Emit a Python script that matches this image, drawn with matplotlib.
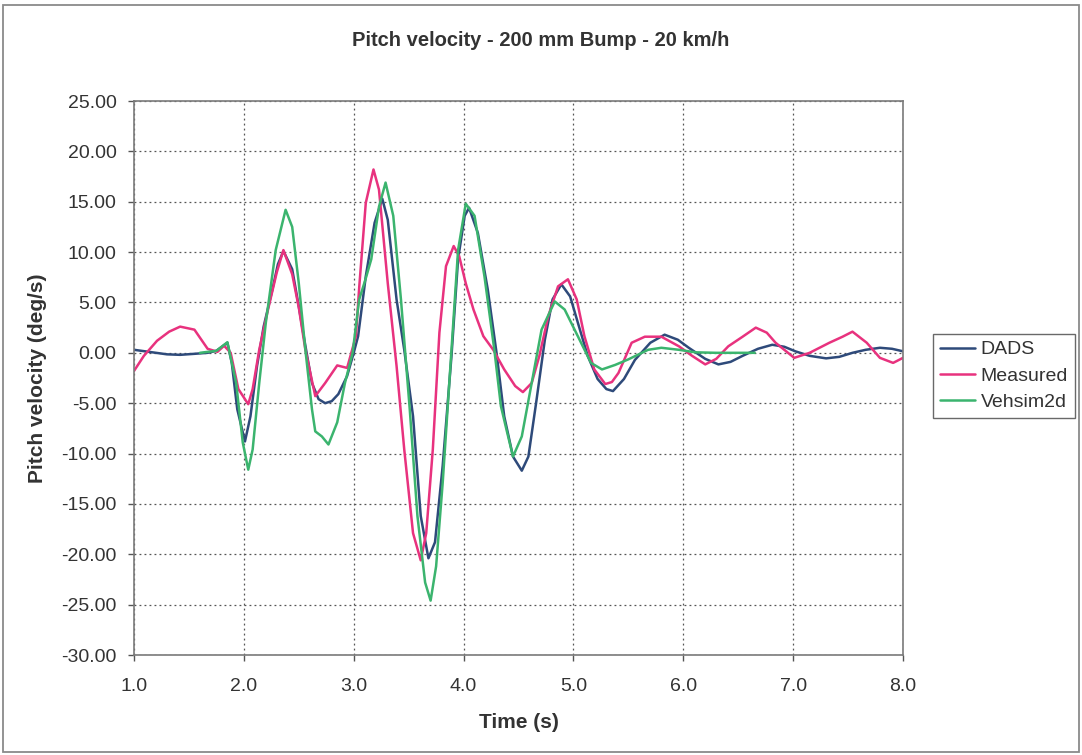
import matplotlib
matplotlib.use("Agg")
import matplotlib.pyplot as plt
from matplotlib.patches import Rectangle

plt.rcParams['font.family'] = ['Liberation Sans', 'DejaVu Sans']

# ---- data ----
dads_t = [1.00, 1.10, 1.20, 1.30, 1.42, 1.55, 1.67, 1.75, 1.80, 1.85, 1.89, 1.94, 2.01, 2.06,
          2.12, 2.18, 2.26, 2.31, 2.36, 2.44, 2.50, 2.56, 2.62, 2.68, 2.74, 2.80, 2.86, 2.94,
          3.00, 3.04, 3.11, 3.19, 3.26, 3.31, 3.39, 3.46, 3.54, 3.61, 3.68, 3.74, 3.81, 3.89,
          3.95, 4.01, 4.05, 4.13, 4.22, 4.30, 4.37, 4.45, 4.53, 4.59, 4.66, 4.74, 4.81, 4.89,
          4.97, 5.04, 5.13, 5.22, 5.30, 5.36, 5.46, 5.56, 5.70, 5.83, 5.95, 6.05, 6.20, 6.32,
          6.43, 6.54, 6.68, 6.81, 6.92, 7.02, 7.15, 7.30, 7.42, 7.54, 7.66, 7.79, 7.90, 8.00]
dads_v = [0.3, 0.15, 0.0, -0.15, -0.2, -0.1, 0.0, 0.2, 0.6, 1.0, -1.0, -5.6, -8.8, -6.3,
          -1.3, 2.6, 6.3, 8.8, 10.1, 8.3, 4.6, 0.7, -3.0, -4.6, -5.0, -4.8, -4.1, -2.3,
          0.0, 1.65, 7.6, 12.9, 15.3, 13.2, 5.3, 0.3, -6.3, -16.2, -20.4, -18.8, -11.2, -0.3,
          9.3, 13.6, 14.4, 11.9, 6.3, 0.0, -6.3, -10.3, -11.7, -10.3, -5.0, 1.3, 5.3, 6.8,
          5.6, 3.0, -0.3, -2.6, -3.6, -3.8, -2.6, -0.7, 1.0, 1.8, 1.3, 0.5, -0.6, -1.15,
          -0.9, -0.3, 0.4, 0.8, 0.6, 0.15, -0.3, -0.55, -0.4, 0.0, 0.3, 0.5, 0.4, 0.15]

meas_t = [1.00, 1.09, 1.21, 1.32, 1.42, 1.55, 1.67, 1.76, 1.82, 1.88, 1.95, 2.04, 2.08, 2.14,
          2.22, 2.30, 2.36, 2.44, 2.50, 2.56, 2.65, 2.74, 2.85, 2.94, 3.02, 3.05, 3.11, 3.18,
          3.23, 3.31, 3.39, 3.46, 3.54, 3.61, 3.66, 3.72, 3.78, 3.84, 3.91, 3.96, 4.02, 4.09,
          4.18, 4.27, 4.37, 4.47, 4.54, 4.62, 4.69, 4.77, 4.86, 4.95, 5.03, 5.10, 5.19, 5.29,
          5.35, 5.41, 5.53, 5.65, 5.80, 5.96, 6.08, 6.20, 6.30, 6.41, 6.54, 6.66, 6.76, 6.84,
          7.01, 7.15, 7.33, 7.45, 7.54, 7.67, 7.79, 7.91, 8.00]
meas_v = [-1.8, -0.3, 1.2, 2.1, 2.6, 2.3, 0.4, 0.1, 0.7, 0.0, -3.6, -5.1, -3.6, 0.3,
          4.3, 8.0, 10.2, 7.8, 4.5, 0.3, -4.3, -3.0, -1.25, -1.5, 1.65, 6.5, 14.9, 18.2,
          16.2, 6.9, -1.3, -9.6, -17.9, -20.6, -17.9, -9.6, 2.0, 8.6, 10.6, 9.6, 6.9, 4.3,
          1.65, 0.3, -1.65, -3.3, -3.9, -3.0, -0.3, 3.6, 6.6, 7.3, 5.3, 1.65, -1.65, -3.1,
          -2.9, -2.0, 1.0, 1.6, 1.6, 0.65, -0.3, -1.15, -0.6, 0.65, 1.6, 2.5, 2.0, 1.0,
          -0.5, 0.0, 1.0, 1.6, 2.1, 1.0, -0.5, -1.0, -0.5]

veh_t = [1.60, 1.75, 1.85, 1.93, 1.99, 2.04, 2.08, 2.14, 2.20, 2.29, 2.38, 2.44, 2.50, 2.56,
         2.62, 2.65, 2.71, 2.77, 2.85, 2.92, 2.99, 3.05, 3.11, 3.16, 3.23, 3.29, 3.36, 3.43,
         3.51, 3.58, 3.65, 3.70, 3.75, 3.81, 3.89, 3.95, 4.02, 4.10, 4.19, 4.28, 4.34, 4.39,
         4.45, 4.53, 4.62, 4.71, 4.83, 4.92, 5.04, 5.16, 5.26, 5.38, 5.50, 5.68, 5.80, 5.96,
         6.11, 6.30, 6.65]
veh_v = [0.0, 0.2, 1.05, -3.0, -8.9, -11.6, -9.6, -3.0, 3.0, 10.2, 14.2, 12.5, 6.9, 0.3,
         -5.6, -7.8, -8.3, -9.1, -6.9, -3.0, 0.0, 5.3, 7.4, 9.3, 14.5, 16.9, 13.6, 5.3,
         -5.6, -16.2, -22.8, -24.6, -21.2, -12.9, 0.3, 10.2, 14.8, 13.6, 7.6, 0.3, -5.3, -7.6,
         -10.3, -8.3, -3.0, 2.3, 5.1, 4.3, 1.65, -1.0, -1.65, -1.2, -0.65, 0.3, 0.5, 0.3,
         0.05, 0.0, 0.0]

series_names = ["DADS", "Measured", "Vehsim2d"]
series_colors = ["#2E4A7A", "#E8327E", "#3BB46E"]

x_ticks = [1.0, 2.0, 3.0, 4.0, 5.0, 6.0, 7.0, 8.0]
y_ticks = [25, 20, 15, 10, 5, 0, -5, -10, -15, -20, -25, -30]

# ---- figure ----
W, H = 1082, 755
fig = plt.figure(figsize=(W / 100, H / 100), dpi=100)
fig.patch.set_facecolor("white")
fig.patches.append(Rectangle((3 / W, 3 / H), 1 - 6 / W, 1 - 8 / H, transform=fig.transFigure,
                             fill=False, edgecolor="#8a8a8a", linewidth=1.3))

ax = fig.add_axes([134 / W, 1 - 655 / H, (903 - 134) / W, (655 - 101) / H])

for (t, v), name, col in zip([(dads_t, dads_v), (meas_t, meas_v), (veh_t, veh_v)],
                             series_names, series_colors):
    ax.plot(t, v, color=col, linewidth=1.8, label=name, solid_joinstyle="round",
            solid_capstyle="round")

ax.set_xlim(1.0, 8.0)
ax.set_ylim(-30, 25)
ax.set_xticks(x_ticks)
ax.set_xticklabels([f"{x:.1f}" for x in x_ticks])
ax.set_yticks(y_ticks)
ax.set_yticklabels([f"{y:.2f}" for y in y_ticks])
ax.tick_params(direction="out", length=4.5, width=1, color="#555555", labelsize=14,
               labelcolor="#333333")
ax.tick_params(axis="y", pad=8)
ax.tick_params(axis="x", pad=12)
ax.grid(True, linestyle=(0, (1.5, 2.5)), color="#555555", linewidth=0.9)
for s in ax.spines.values():
    s.set_color("#7a7a7a")
    s.set_linewidth(1.2)

ax.set_xlabel("Time (s)", fontsize=15, fontweight="bold", color="#333333", labelpad=13)
ax.set_ylabel("Pitch velocity (deg/s)", fontsize=15, fontweight="bold", color="#333333",
              labelpad=10)
fig.text(541 / W, 1 - 40 / H, "Pitch velocity - 200 mm Bump - 20 km/h", ha="center",
         va="center", fontsize=14.5, fontweight="bold", color="#333333")

leg = ax.legend(loc="upper left", bbox_to_anchor=(933 / W, 1 - 334 / H),
                bbox_transform=fig.transFigure, frameon=True, fancybox=False,
                fontsize=14, handlelength=1.8, handletextpad=0.3, borderpad=0.35,
                labelspacing=0.45, borderaxespad=0)
leg.get_frame().set_edgecolor("#444444")
leg.get_frame().set_linewidth(1.0)
for txt in leg.get_texts():
    txt.set_color("#333333")

fig.savefig("out.png", dpi=100)
